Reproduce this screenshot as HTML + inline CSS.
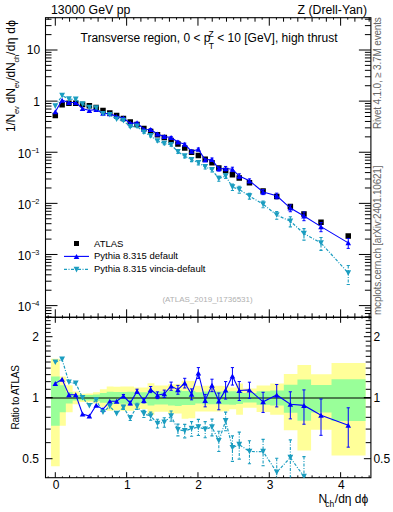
<!DOCTYPE html>
<html><head><meta charset="utf-8"><style>
html,body{margin:0;padding:0;background:#fff;}
svg{display:block;}
text{font-family:"Liberation Sans",sans-serif;}
</style></head><body>
<svg width="393" height="512" viewBox="0 0 393 512">

<g id="bands"><path d="M51.05 358.80H59.70V466.30H51.05Z M59.70 376.40H65.82V425.86H59.70Z M65.82 385.20H72.63V412.27H65.82Z M72.63 391.60H79.44V404.25H72.63Z M79.44 393.70H86.26V401.89H79.44Z M86.26 393.40H93.07V402.22H86.26Z M93.07 392.30H99.88V403.45H93.07Z M99.88 389.30H106.70V406.99H99.88Z M106.70 386.40H113.51V410.67H106.70Z M113.51 386.70H120.32V410.27H113.51Z M120.32 386.40H127.13V410.67H120.32Z M127.13 386.40H133.95V410.67H127.13Z M133.95 387.60H140.76V409.11H133.95Z M140.76 387.60H147.57V409.11H140.76Z M147.57 383.30H154.39V414.93H147.57Z M154.39 385.50H161.20V411.87H154.39Z M161.20 385.50H168.01V411.87H161.20Z M168.01 384.30H174.82V413.51H168.01Z M174.82 384.30H181.64V413.51H174.82Z M181.64 380.70H188.45V418.79H181.64Z M188.45 381.00H195.26V418.33H188.45Z M195.26 385.80H202.08V411.46H195.26Z M202.08 385.80H208.89V411.46H202.08Z M208.89 385.80H215.70V411.46H208.89Z M215.70 385.80H222.51V411.46H215.70Z M222.51 386.00H229.33V411.20H222.51Z M229.33 387.40H236.14V409.37H229.33Z M236.14 383.50H242.95V414.64H236.14Z M242.95 388.60H256.58V407.85H242.95Z M256.58 385.40H270.20V412.00H256.58Z M270.20 383.50H283.83V414.64H270.20Z M283.83 374.00H297.45V430.23H283.83Z M297.45 364.90H311.08V450.58H297.45Z M311.08 374.30H331.52V429.67H311.08Z M331.52 363.10H365.58V455.53H331.52Z" fill="#ffff99"/><path d="M51.05 376.40H59.70V425.86H51.05Z M59.70 385.20H65.82V412.27H59.70Z M65.82 392.20H72.63V403.57H65.82Z M72.63 395.10H79.44V400.38H72.63Z M79.44 395.20H86.26V400.27H79.44Z M86.26 395.00H93.07V400.49H86.26Z M93.07 394.60H99.88V400.91H93.07Z M99.88 392.90H106.70V402.78H99.88Z M106.70 391.70H113.51V404.14H106.70Z M113.51 392.00H120.32V403.79H113.51Z M120.32 392.00H127.13V403.79H120.32Z M127.13 391.70H133.95V404.14H127.13Z M133.95 392.30H140.76V403.45H133.95Z M140.76 392.30H147.57V403.45H140.76Z M147.57 390.60H154.39V405.42H147.57Z M154.39 391.40H161.20V404.49H154.39Z M161.20 391.40H168.01V404.49H161.20Z M168.01 390.50H174.82V405.54H168.01Z M174.82 390.20H181.64V405.90H174.82Z M181.64 390.90H188.45V405.07H181.64Z M188.45 391.00H195.26V404.95H188.45Z M195.26 392.20H202.08V403.57H195.26Z M202.08 391.60H208.89V404.25H202.08Z M208.89 391.60H215.70V404.25H208.89Z M215.70 391.60H222.51V404.25H215.70Z M222.51 391.40H229.33V404.49H222.51Z M229.33 391.20H236.14V404.72H229.33Z M236.14 391.80H242.95V404.02H236.14Z M242.95 393.10H256.58V402.55H242.95Z M256.58 391.20H270.20V404.72H256.58Z M270.20 390.50H283.83V405.54H270.20Z M283.83 384.80H297.45V412.82H283.83Z M297.45 379.50H311.08V420.67H297.45Z M311.08 385.10H331.52V412.41H311.08Z M331.52 379.30H365.58V420.99H331.52Z" fill="#99ff99"/></g>
<path d="M48.17 17.7v2 M48.17 317.3v-2 M48.17 317.3v1.3 M48.17 477.7v-1.3 M55.30 17.7v8 M55.30 317.3v-8 M55.30 317.3v5.5 M55.30 477.7v-5.5 M62.43 17.7v2 M62.43 317.3v-2 M62.43 317.3v1.3 M62.43 477.7v-1.3 M69.57 17.7v4 M69.57 317.3v-4 M69.57 317.3v2.3 M69.57 477.7v-2.3 M76.70 17.7v2 M76.70 317.3v-2 M76.70 317.3v1.3 M76.70 477.7v-1.3 M83.83 17.7v4 M83.83 317.3v-4 M83.83 317.3v2.3 M83.83 477.7v-2.3 M90.97 17.7v2 M90.97 317.3v-2 M90.97 317.3v1.3 M90.97 477.7v-1.3 M98.10 17.7v4 M98.10 317.3v-4 M98.10 317.3v2.3 M98.10 477.7v-2.3 M105.23 17.7v2 M105.23 317.3v-2 M105.23 317.3v1.3 M105.23 477.7v-1.3 M112.36 17.7v4 M112.36 317.3v-4 M112.36 317.3v2.3 M112.36 477.7v-2.3 M119.50 17.7v2 M119.50 317.3v-2 M119.50 317.3v1.3 M119.50 477.7v-1.3 M126.63 17.7v8 M126.63 317.3v-8 M126.63 317.3v5.5 M126.63 477.7v-5.5 M133.76 17.7v2 M133.76 317.3v-2 M133.76 317.3v1.3 M133.76 477.7v-1.3 M140.90 17.7v4 M140.90 317.3v-4 M140.90 317.3v2.3 M140.90 477.7v-2.3 M148.03 17.7v2 M148.03 317.3v-2 M148.03 317.3v1.3 M148.03 477.7v-1.3 M155.16 17.7v4 M155.16 317.3v-4 M155.16 317.3v2.3 M155.16 477.7v-2.3 M162.30 17.7v2 M162.30 317.3v-2 M162.30 317.3v1.3 M162.30 477.7v-1.3 M169.43 17.7v4 M169.43 317.3v-4 M169.43 317.3v2.3 M169.43 477.7v-2.3 M176.56 17.7v2 M176.56 317.3v-2 M176.56 317.3v1.3 M176.56 477.7v-1.3 M183.69 17.7v4 M183.69 317.3v-4 M183.69 317.3v2.3 M183.69 477.7v-2.3 M190.83 17.7v2 M190.83 317.3v-2 M190.83 317.3v1.3 M190.83 477.7v-1.3 M197.96 17.7v8 M197.96 317.3v-8 M197.96 317.3v5.5 M197.96 477.7v-5.5 M205.09 17.7v2 M205.09 317.3v-2 M205.09 317.3v1.3 M205.09 477.7v-1.3 M212.23 17.7v4 M212.23 317.3v-4 M212.23 317.3v2.3 M212.23 477.7v-2.3 M219.36 17.7v2 M219.36 317.3v-2 M219.36 317.3v1.3 M219.36 477.7v-1.3 M226.49 17.7v4 M226.49 317.3v-4 M226.49 317.3v2.3 M226.49 477.7v-2.3 M233.62 17.7v2 M233.62 317.3v-2 M233.62 317.3v1.3 M233.62 477.7v-1.3 M240.76 17.7v4 M240.76 317.3v-4 M240.76 317.3v2.3 M240.76 477.7v-2.3 M247.89 17.7v2 M247.89 317.3v-2 M247.89 317.3v1.3 M247.89 477.7v-1.3 M255.02 17.7v4 M255.02 317.3v-4 M255.02 317.3v2.3 M255.02 477.7v-2.3 M262.16 17.7v2 M262.16 317.3v-2 M262.16 317.3v1.3 M262.16 477.7v-1.3 M269.29 17.7v8 M269.29 317.3v-8 M269.29 317.3v5.5 M269.29 477.7v-5.5 M276.42 17.7v2 M276.42 317.3v-2 M276.42 317.3v1.3 M276.42 477.7v-1.3 M283.56 17.7v4 M283.56 317.3v-4 M283.56 317.3v2.3 M283.56 477.7v-2.3 M290.69 17.7v2 M290.69 317.3v-2 M290.69 317.3v1.3 M290.69 477.7v-1.3 M297.82 17.7v4 M297.82 317.3v-4 M297.82 317.3v2.3 M297.82 477.7v-2.3 M304.95 17.7v2 M304.95 317.3v-2 M304.95 317.3v1.3 M304.95 477.7v-1.3 M312.09 17.7v4 M312.09 317.3v-4 M312.09 317.3v2.3 M312.09 477.7v-2.3 M319.22 17.7v2 M319.22 317.3v-2 M319.22 317.3v1.3 M319.22 477.7v-1.3 M326.35 17.7v4 M326.35 317.3v-4 M326.35 317.3v2.3 M326.35 477.7v-2.3 M333.49 17.7v2 M333.49 317.3v-2 M333.49 317.3v1.3 M333.49 477.7v-1.3 M340.62 17.7v8 M340.62 317.3v-8 M340.62 317.3v5.5 M340.62 477.7v-5.5 M347.75 17.7v2 M347.75 317.3v-2 M347.75 317.3v1.3 M347.75 477.7v-1.3 M354.89 17.7v4 M354.89 317.3v-4 M354.89 317.3v2.3 M354.89 477.7v-2.3 M362.02 17.7v2 M362.02 317.3v-2 M362.02 317.3v1.3 M362.02 477.7v-1.3 M369.15 17.7v4 M369.15 317.3v-4 M369.15 317.3v2.3 M369.15 477.7v-2.3 M45.5 316.94h6 M370.9 316.94h-6 M45.5 313.52h6 M370.9 313.52h-6 M45.5 310.55h6 M370.9 310.55h-6 M45.5 307.94h6 M370.9 307.94h-6 M45.5 305.60h12 M370.9 305.60h-12 M45.5 290.21h6 M370.9 290.21h-6 M45.5 281.21h6 M370.9 281.21h-6 M45.5 274.82h6 M370.9 274.82h-6 M45.5 269.87h6 M370.9 269.87h-6 M45.5 265.82h6 M370.9 265.82h-6 M45.5 262.40h6 M370.9 262.40h-6 M45.5 259.43h6 M370.9 259.43h-6 M45.5 256.82h6 M370.9 256.82h-6 M45.5 254.48h12 M370.9 254.48h-12 M45.5 239.09h6 M370.9 239.09h-6 M45.5 230.09h6 M370.9 230.09h-6 M45.5 223.70h6 M370.9 223.70h-6 M45.5 218.75h6 M370.9 218.75h-6 M45.5 214.70h6 M370.9 214.70h-6 M45.5 211.28h6 M370.9 211.28h-6 M45.5 208.31h6 M370.9 208.31h-6 M45.5 205.70h6 M370.9 205.70h-6 M45.5 203.36h12 M370.9 203.36h-12 M45.5 187.97h6 M370.9 187.97h-6 M45.5 178.97h6 M370.9 178.97h-6 M45.5 172.58h6 M370.9 172.58h-6 M45.5 167.63h6 M370.9 167.63h-6 M45.5 163.58h6 M370.9 163.58h-6 M45.5 160.16h6 M370.9 160.16h-6 M45.5 157.19h6 M370.9 157.19h-6 M45.5 154.58h6 M370.9 154.58h-6 M45.5 152.24h12 M370.9 152.24h-12 M45.5 136.85h6 M370.9 136.85h-6 M45.5 127.85h6 M370.9 127.85h-6 M45.5 121.46h6 M370.9 121.46h-6 M45.5 116.51h6 M370.9 116.51h-6 M45.5 112.46h6 M370.9 112.46h-6 M45.5 109.04h6 M370.9 109.04h-6 M45.5 106.07h6 M370.9 106.07h-6 M45.5 103.46h6 M370.9 103.46h-6 M45.5 101.12h12 M370.9 101.12h-12 M45.5 85.73h6 M370.9 85.73h-6 M45.5 76.73h6 M370.9 76.73h-6 M45.5 70.34h6 M370.9 70.34h-6 M45.5 65.39h6 M370.9 65.39h-6 M45.5 61.34h6 M370.9 61.34h-6 M45.5 57.92h6 M370.9 57.92h-6 M45.5 54.95h6 M370.9 54.95h-6 M45.5 52.34h6 M370.9 52.34h-6 M45.5 50.00h12 M370.9 50.00h-12 M45.5 34.61h6 M370.9 34.61h-6 M45.5 25.61h6 M370.9 25.61h-6 M45.5 19.22h6 M370.9 19.22h-6 M45.5 458.70h7 M370.9 458.70h-7 M45.5 442.65h5.2 M370.9 442.65h-5.2 M45.5 429.09h5.2 M370.9 429.09h-5.2 M45.5 417.34h5.2 M370.9 417.34h-5.2 M45.5 406.97h5.2 M370.9 406.97h-5.2 M45.5 397.70h7 M370.9 397.70h-7 M45.5 397.70h7 M370.9 397.70h-7 M45.5 389.31h5.2 M370.9 389.31h-5.2 M45.5 381.65h5.2 M370.9 381.65h-5.2 M45.5 374.61h5.2 M370.9 374.61h-5.2 M45.5 368.09h5.2 M370.9 368.09h-5.2 M45.5 362.02h5.2 M370.9 362.02h-5.2 M45.5 356.34h5.2 M370.9 356.34h-5.2 M45.5 351.00h5.2 M370.9 351.00h-5.2 M45.5 345.97h5.2 M370.9 345.97h-5.2 M45.5 341.21h5.2 M370.9 341.21h-5.2 M45.5 336.70h7 M370.9 336.70h-7 M45.5 332.41h5.2 M370.9 332.41h-5.2 M45.5 328.31h5.2 M370.9 328.31h-5.2 M45.5 324.40h5.2 M370.9 324.40h-5.2 M45.5 320.65h5.2 M370.9 320.65h-5.2" stroke="#000" stroke-width="1" fill="none"/>
<rect x="45.5" y="17.7" width="325.40" height="299.60" fill="none" stroke="#000" stroke-width="1.1"/>
<rect x="45.5" y="317.3" width="325.40" height="160.40" fill="none" stroke="#000" stroke-width="1.1"/>
<path d="M45.5 398.0H370.9" stroke="#000" stroke-width="1.2"/>
<text x="51" y="13.9" font-size="12.3" text-anchor="start" fill="#000" >13000 GeV pp</text>
<text x="367" y="14" font-size="12.3" text-anchor="end" fill="#000" >Z (Drell-Yan)</text>
<text x="80.5" y="42.3" font-size="12" text-anchor="start" fill="#000" >Transverse region, 0 &lt; p<tspan font-size="8.5" dx="-2" dy="-5">Z</tspan><tspan font-size="8.5" dx="-5" dy="12">T</tspan><tspan dy="-7"> &lt; 10 [GeV], high thrust</tspan></text>
<text x="40.2" y="54" font-size="12" text-anchor="end" fill="#000" >10</text>
<text x="40" y="106" font-size="12" text-anchor="end" fill="#000" >1</text>
<text x="39.3" y="158" font-size="12" text-anchor="end" fill="#000" >10<tspan font-size="7.4" dx="0.3" dy="-5">&#8722;</tspan><tspan font-size="7.4" dx="-0.6">1</tspan></text>
<text x="39.3" y="209" font-size="12" text-anchor="end" fill="#000" >10<tspan font-size="7.4" dx="0.3" dy="-5">&#8722;</tspan><tspan font-size="7.4" dx="-0.6">2</tspan></text>
<text x="39.3" y="260" font-size="12" text-anchor="end" fill="#000" >10<tspan font-size="7.4" dx="0.3" dy="-5">&#8722;</tspan><tspan font-size="7.4" dx="-0.6">3</tspan></text>
<text x="39.3" y="311" font-size="12" text-anchor="end" fill="#000" >10<tspan font-size="7.4" dx="0.3" dy="-5">&#8722;</tspan><tspan font-size="7.4" dx="-0.6">4</tspan></text>
<text x="39" y="340.9" font-size="12" text-anchor="end" fill="#000" >2</text>
<text x="39" y="401.9" font-size="12" text-anchor="end" fill="#000" >1</text>
<text x="39" y="462.9" font-size="12" text-anchor="end" fill="#000" >0.5</text>
<text x="373.4" y="340.9" font-size="12" text-anchor="start" fill="#000" >2</text>
<text x="373.4" y="402.09999999999997" font-size="12" text-anchor="start" fill="#000" >1</text>
<text x="373.4" y="462.9" font-size="12" text-anchor="start" fill="#000" >0.5</text>
<text x="56.0" y="489.4" font-size="12" text-anchor="middle" fill="#000" >0</text>
<text x="127.33" y="489.4" font-size="12" text-anchor="middle" fill="#000" >1</text>
<text x="198.65999999999997" y="489.4" font-size="12" text-anchor="middle" fill="#000" >2</text>
<text x="269.99" y="489.4" font-size="12" text-anchor="middle" fill="#000" >3</text>
<text x="341.32" y="489.4" font-size="12" text-anchor="middle" fill="#000" >4</text>
<text x="318.5" y="502.5" font-size="12" text-anchor="start" fill="#000" >N<tspan font-size="8.5" dx="-1.8" dy="4.5">ch</tspan><tspan dx="0.5" dy="-4.5">/d&#951; d&#981;</tspan></text>
<text x="94" y="247" font-size="9.5" text-anchor="start" fill="#000" >ATLAS</text>
<text x="94" y="258.6" font-size="9.5" text-anchor="start" fill="#000" >Pythia 8.315 default</text>
<text x="94" y="271.6" font-size="9.5" text-anchor="start" fill="#000" >Pythia 8.315 vincia-default</text>
<text x="162.4" y="302.3" font-size="8.02" text-anchor="start" fill="#b0b0b0" >(ATLAS_2019_I1736531)</text>
<text transform="translate(14.7,132) rotate(-90)" font-size="12" letter-spacing="-0.2">1/N<tspan font-size="7.6" dy="3.9">ev</tspan><tspan dy="-3.9"> dN</tspan><tspan font-size="7.6" dy="3.9">ev</tspan><tspan dy="-3.9">/dN</tspan><tspan font-size="7.6" dy="3.9">ch</tspan><tspan dy="-3.9" letter-spacing="0.3">/d&#951; d&#981;</tspan></text>
<text transform="translate(18.9,429.5) rotate(-90)" font-size="10" letter-spacing="-0.25">Ratio to ATLAS</text>
<text transform="translate(380.5,129) rotate(-90)" font-size="10" letter-spacing="-0.17" fill="#666">Rivet 4.1.0, &#8805; 3.7M events</text>
<text transform="translate(381,315) rotate(-90)" font-size="10" letter-spacing="-0.22" fill="#666">mcplots.cern.ch [arXiv:2401.10621]</text>
<defs><clipPath id="cm"><rect x="45.5" y="17.7" width="325.4" height="299.6"/></clipPath><clipPath id="cr"><rect x="45.5" y="317.3" width="325.4" height="160.39999999999998"/></clipPath></defs>
<g clip-path="url(#cm)">
<path d="M52.55 112.65h5.5v5.5h-5.5Z M59.36 102.05h5.5v5.5h-5.5Z M66.18 100.55h5.5v5.5h-5.5Z M72.99 100.55h5.5v5.5h-5.5Z M79.80 101.65h5.5v5.5h-5.5Z M86.61 103.05h5.5v5.5h-5.5Z M93.43 104.85h5.5v5.5h-5.5Z M100.24 107.65h5.5v5.5h-5.5Z M107.05 110.15h5.5v5.5h-5.5Z M113.87 112.75h5.5v5.5h-5.5Z M120.68 115.75h5.5v5.5h-5.5Z M127.49 119.25h5.5v5.5h-5.5Z M134.30 121.75h5.5v5.5h-5.5Z M141.12 125.75h5.5v5.5h-5.5Z M147.93 128.75h5.5v5.5h-5.5Z M154.74 131.95h5.5v5.5h-5.5Z M161.55 134.85h5.5v5.5h-5.5Z M168.37 137.65h5.5v5.5h-5.5Z M175.18 141.25h5.5v5.5h-5.5Z M181.99 145.25h5.5v5.5h-5.5Z M188.81 149.45h5.5v5.5h-5.5Z M195.62 152.85h5.5v5.5h-5.5Z M202.43 156.45h5.5v5.5h-5.5Z M209.24 159.95h5.5v5.5h-5.5Z M216.06 165.25h5.5v5.5h-5.5Z M222.87 167.75h5.5v5.5h-5.5Z M229.68 172.05h5.5v5.5h-5.5Z M236.50 175.15h5.5v5.5h-5.5Z M246.71 180.05h5.5v5.5h-5.5Z M260.34 188.15h5.5v5.5h-5.5Z M273.97 193.75h5.5v5.5h-5.5Z M287.59 203.65h5.5v5.5h-5.5Z M301.22 211.25h5.5v5.5h-5.5Z M318.25 219.45h5.5v5.5h-5.5Z M345.50 233.15h5.5v5.5h-5.5Z" fill="#000"/>
<path d="M55.30 111.79L62.11 100.16L68.93 102.57L75.74 102.57L82.55 108.51L89.36 110.42L96.18 109.52L102.99 113.35L109.80 113.81L116.62 116.38L123.43 118.07L130.24 123.34L137.05 122.86L143.87 129.23L150.68 129.43L157.49 134.07L164.30 136.59L171.12 137.47L177.93 141.98L184.74 144.29L191.56 151.32L198.37 149.34L205.18 159.88L211.99 159.55L218.81 168.83L225.62 168.53L232.43 169.30L239.25 176.08L249.46 180.83L263.09 191.93L276.72 195.82L290.34 208.07L303.97 215.94L321.00 226.64L348.25 242.86" fill="none" stroke="#0000ff" stroke-width="1.1"/>
<path d="M123.43 117.69V118.46 M130.24 122.88V123.80 M137.05 122.36V123.38 M143.87 128.68V129.80 M150.68 128.67V130.21 M157.49 133.24V134.93 M164.30 135.68V137.54 M171.12 136.46V138.53 M177.93 140.90V143.12 M184.74 143.11V145.54 M191.56 149.98V152.74 M198.37 148.01V150.77 M205.18 158.37V161.51 M211.99 158.03V161.17 M218.81 166.81V171.05 M225.62 166.44V170.84 M232.43 167.21V171.61 M239.25 173.81V178.61 M249.46 178.89V182.96 M263.09 189.54V194.62 M276.72 193.17V198.83 M290.34 204.91V211.74 M303.97 212.03V220.69 M321.00 222.53V231.69 M348.25 238.45V248.38 M121.83 117.69h3.2M121.83 118.46h3.2 M128.64 122.88h3.2M128.64 123.80h3.2 M135.45 122.36h3.2M135.45 123.38h3.2 M142.27 128.68h3.2M142.27 129.80h3.2 M149.08 128.67h3.2M149.08 130.21h3.2 M155.89 133.24h3.2M155.89 134.93h3.2 M162.70 135.68h3.2M162.70 137.54h3.2 M169.52 136.46h3.2M169.52 138.53h3.2 M176.33 140.90h3.2M176.33 143.12h3.2 M183.14 143.11h3.2M183.14 145.54h3.2 M189.96 149.98h3.2M189.96 152.74h3.2 M196.77 148.01h3.2M196.77 150.77h3.2 M203.58 158.37h3.2M203.58 161.51h3.2 M210.39 158.03h3.2M210.39 161.17h3.2 M217.21 166.81h3.2M217.21 171.05h3.2 M224.02 166.44h3.2M224.02 170.84h3.2 M230.83 167.21h3.2M230.83 171.61h3.2 M237.65 173.81h3.2M237.65 178.61h3.2 M247.86 178.89h3.2M247.86 182.96h3.2 M261.49 189.54h3.2M261.49 194.62h3.2 M275.12 193.17h3.2M275.12 198.83h3.2 M288.74 204.91h3.2M288.74 211.74h3.2 M302.37 212.03h3.2M302.37 220.69h3.2 M319.40 222.53h3.2M319.40 231.69h3.2 M346.65 238.45h3.2M346.65 248.38h3.2" stroke="#0000ff" stroke-width="1" fill="none"/>
<path d="M52.50 114.29L55.30 109.29L58.10 114.29Z M59.31 102.66L62.11 97.66L64.91 102.66Z M66.13 105.07L68.93 100.07L71.73 105.07Z M72.94 105.07L75.74 100.07L78.54 105.07Z M79.75 111.01L82.55 106.01L85.35 111.01Z M86.56 112.92L89.36 107.92L92.16 112.92Z M93.38 112.02L96.18 107.02L98.98 112.02Z M100.19 115.85L102.99 110.85L105.79 115.85Z M107.00 116.31L109.80 111.31L112.60 116.31Z M113.82 118.88L116.62 113.88L119.42 118.88Z M120.63 120.57L123.43 115.57L126.23 120.57Z M127.44 125.84L130.24 120.84L133.04 125.84Z M134.25 125.36L137.05 120.36L139.85 125.36Z M141.07 131.73L143.87 126.73L146.67 131.73Z M147.88 131.93L150.68 126.93L153.48 131.93Z M154.69 136.57L157.49 131.57L160.29 136.57Z M161.50 139.09L164.30 134.09L167.10 139.09Z M168.32 139.97L171.12 134.97L173.92 139.97Z M175.13 144.48L177.93 139.48L180.73 144.48Z M181.94 146.79L184.74 141.79L187.54 146.79Z M188.76 153.82L191.56 148.82L194.36 153.82Z M195.57 151.84L198.37 146.84L201.17 151.84Z M202.38 162.38L205.18 157.38L207.98 162.38Z M209.19 162.05L211.99 157.05L214.79 162.05Z M216.01 171.33L218.81 166.33L221.61 171.33Z M222.82 171.03L225.62 166.03L228.42 171.03Z M229.63 171.80L232.43 166.80L235.23 171.80Z M236.45 178.58L239.25 173.58L242.05 178.58Z M246.66 183.33L249.46 178.33L252.26 183.33Z M260.29 194.43L263.09 189.43L265.89 194.43Z M273.92 198.32L276.72 193.32L279.52 198.32Z M287.54 210.57L290.34 205.57L293.14 210.57Z M301.17 218.44L303.97 213.44L306.77 218.44Z M318.20 229.14L321.00 224.14L323.80 229.14Z M345.45 245.36L348.25 240.36L351.05 245.36Z" fill="#0000ff"/>
<path d="M55.30 106.17L62.11 95.60L68.93 99.11L75.74 99.39L82.55 104.12L89.36 107.54L96.18 107.93L102.99 113.78L109.80 114.82L116.62 119.23L123.43 120.67L130.24 126.84L137.05 126.39L143.87 132.31L150.68 135.86L157.49 140.93L164.30 143.55L171.12 144.74L177.93 151.82L184.74 156.10L191.56 159.72L198.37 162.74L205.18 166.89L211.99 169.84L218.81 178.60L225.62 176.08L232.43 187.14L239.25 189.45L249.46 196.09L263.09 204.22L276.72 215.02L290.34 221.23L303.97 233.63L321.00 243.00L348.25 273.00" fill="none" stroke="#1b9dc0" stroke-width="1.2" stroke-dasharray="3 1.5 1 1.5"/>
<path d="M123.43 120.17V121.19 M130.24 126.21V127.49 M137.05 125.64V127.18 M143.87 131.43V133.23 M150.68 134.86V136.92 M157.49 139.85V142.07 M164.30 142.39V144.78 M171.12 143.48V146.08 M177.93 150.38V153.36 M184.74 154.46V157.87 M191.56 157.95V161.64 M198.37 160.80V164.87 M205.18 164.95V169.02 M211.99 167.82V172.06 M218.81 176.20V181.28 M225.62 173.86V178.54 M232.43 184.16V190.57 M239.25 186.30V193.13 M249.46 193.40V199.17 M263.09 201.14V207.79 M276.72 211.49V219.22 M290.34 216.77V226.83 M303.97 228.58V240.17 M321.00 237.45V250.42 M348.25 265.43V284.57" stroke="#1b9dc0" stroke-width="1.1" fill="none" stroke-dasharray="3 1.5 1 1.5"/><path d="M121.83 120.17h3.2M121.83 121.19h3.2 M128.64 126.21h3.2M128.64 127.49h3.2 M135.45 125.64h3.2M135.45 127.18h3.2 M142.27 131.43h3.2M142.27 133.23h3.2 M149.08 134.86h3.2M149.08 136.92h3.2 M155.89 139.85h3.2M155.89 142.07h3.2 M162.70 142.39h3.2M162.70 144.78h3.2 M169.52 143.48h3.2M169.52 146.08h3.2 M176.33 150.38h3.2M176.33 153.36h3.2 M183.14 154.46h3.2M183.14 157.87h3.2 M189.96 157.95h3.2M189.96 161.64h3.2 M196.77 160.80h3.2M196.77 164.87h3.2 M203.58 164.95h3.2M203.58 169.02h3.2 M210.39 167.82h3.2M210.39 172.06h3.2 M217.21 176.20h3.2M217.21 181.28h3.2 M224.02 173.86h3.2M224.02 178.54h3.2 M230.83 184.16h3.2M230.83 190.57h3.2 M237.65 186.30h3.2M237.65 193.13h3.2 M247.86 193.40h3.2M247.86 199.17h3.2 M261.49 201.14h3.2M261.49 207.79h3.2 M275.12 211.49h3.2M275.12 219.22h3.2 M288.74 216.77h3.2M288.74 226.83h3.2 M302.37 228.58h3.2M302.37 240.17h3.2 M319.40 237.45h3.2M319.40 250.42h3.2 M346.65 265.43h3.2M346.65 284.57h3.2" stroke="#1b9dc0" stroke-width="1.1" fill="none"/>
<path d="M52.40 103.37L55.30 108.97L58.20 103.37Z M59.21 92.80L62.11 98.40L65.01 92.80Z M66.03 96.31L68.93 101.91L71.83 96.31Z M72.84 96.59L75.74 102.19L78.64 96.59Z M79.65 101.32L82.55 106.92L85.45 101.32Z M86.46 104.74L89.36 110.34L92.26 104.74Z M93.28 105.13L96.18 110.73L99.08 105.13Z M100.09 110.98L102.99 116.58L105.89 110.98Z M106.90 112.02L109.80 117.62L112.70 112.02Z M113.72 116.43L116.62 122.03L119.52 116.43Z M120.53 117.87L123.43 123.47L126.33 117.87Z M127.34 124.04L130.24 129.64L133.14 124.04Z M134.15 123.59L137.05 129.19L139.95 123.59Z M140.97 129.51L143.87 135.11L146.77 129.51Z M147.78 133.06L150.68 138.66L153.58 133.06Z M154.59 138.13L157.49 143.73L160.39 138.13Z M161.40 140.75L164.30 146.35L167.20 140.75Z M168.22 141.94L171.12 147.54L174.02 141.94Z M175.03 149.02L177.93 154.62L180.83 149.02Z M181.84 153.30L184.74 158.90L187.64 153.30Z M188.66 156.92L191.56 162.52L194.46 156.92Z M195.47 159.94L198.37 165.54L201.27 159.94Z M202.28 164.09L205.18 169.69L208.08 164.09Z M209.09 167.04L211.99 172.64L214.89 167.04Z M215.91 175.80L218.81 181.40L221.71 175.80Z M222.72 173.28L225.62 178.88L228.52 173.28Z M229.53 184.34L232.43 189.94L235.33 184.34Z M236.35 186.65L239.25 192.25L242.15 186.65Z M246.56 193.29L249.46 198.89L252.36 193.29Z M260.19 201.42L263.09 207.02L265.99 201.42Z M273.82 212.22L276.72 217.82L279.62 212.22Z M287.44 218.43L290.34 224.03L293.24 218.43Z M301.07 230.83L303.97 236.43L306.87 230.83Z M318.10 240.20L321.00 245.80L323.90 240.20Z M345.35 270.20L348.25 275.80L351.15 270.20Z" fill="#1b9dc0"/>
</g>
<g clip-path="url(#cr)">
<path d="M55.30 383.40L62.11 379.30L68.93 394.80L75.74 394.80L82.55 414.00L89.36 416.00L96.18 405.30L102.99 409.40L109.80 401.30L116.62 401.20L123.43 396.00L130.24 403.00L137.05 391.20L143.87 400.60L150.68 389.50L157.49 395.20L164.30 393.70L171.12 386.10L177.93 389.70L184.74 383.00L191.56 394.20L198.37 372.90L205.18 400.40L211.99 385.20L218.81 401.00L225.62 389.90L232.43 375.90L239.25 390.50L249.46 389.90L263.09 401.80L276.72 395.00L290.34 404.30L303.97 405.40L321.00 415.30L348.25 425.30" fill="none" stroke="#0000ff" stroke-width="1.1"/>
<path d="M123.43 394.50V397.53 M130.24 401.20V404.84 M137.05 389.20V393.25 M143.87 398.40V402.86 M150.68 386.50V392.61 M157.49 391.90V398.63 M164.30 390.10V397.45 M171.12 382.10V390.29 M177.93 385.40V394.22 M184.74 378.30V387.97 M191.56 388.90V399.84 M198.37 367.60V378.54 M205.18 394.40V406.84 M211.99 379.20V391.64 M218.81 393.00V409.80 M225.62 381.60V399.07 M232.43 367.60V385.07 M239.25 381.50V400.53 M249.46 382.20V398.34 M263.09 392.30V412.45 M276.72 384.50V406.92 M290.34 391.80V418.87 M303.97 389.90V424.23 M321.00 399.00V435.32 M348.25 407.80V447.17 M121.83 394.50h3.2M121.83 397.53h3.2 M128.64 401.20h3.2M128.64 404.84h3.2 M135.45 389.20h3.2M135.45 393.25h3.2 M142.27 398.40h3.2M142.27 402.86h3.2 M149.08 386.50h3.2M149.08 392.61h3.2 M155.89 391.90h3.2M155.89 398.63h3.2 M162.70 390.10h3.2M162.70 397.45h3.2 M169.52 382.10h3.2M169.52 390.29h3.2 M176.33 385.40h3.2M176.33 394.22h3.2 M183.14 378.30h3.2M183.14 387.97h3.2 M189.96 388.90h3.2M189.96 399.84h3.2 M196.77 367.60h3.2M196.77 378.54h3.2 M203.58 394.40h3.2M203.58 406.84h3.2 M210.39 379.20h3.2M210.39 391.64h3.2 M217.21 393.00h3.2M217.21 409.80h3.2 M224.02 381.60h3.2M224.02 399.07h3.2 M230.83 367.60h3.2M230.83 385.07h3.2 M237.65 381.50h3.2M237.65 400.53h3.2 M247.86 382.20h3.2M247.86 398.34h3.2 M261.49 392.30h3.2M261.49 412.45h3.2 M275.12 384.50h3.2M275.12 406.92h3.2 M288.74 391.80h3.2M288.74 418.87h3.2 M302.37 389.90h3.2M302.37 424.23h3.2 M319.40 399.00h3.2M319.40 435.32h3.2 M346.65 407.80h3.2M346.65 447.17h3.2" stroke="#0000ff" stroke-width="1" fill="none"/>
<path d="M52.50 385.90L55.30 380.90L58.10 385.90Z M59.31 381.80L62.11 376.80L64.91 381.80Z M66.13 397.30L68.93 392.30L71.73 397.30Z M72.94 397.30L75.74 392.30L78.54 397.30Z M79.75 416.50L82.55 411.50L85.35 416.50Z M86.56 418.50L89.36 413.50L92.16 418.50Z M93.38 407.80L96.18 402.80L98.98 407.80Z M100.19 411.90L102.99 406.90L105.79 411.90Z M107.00 403.80L109.80 398.80L112.60 403.80Z M113.82 403.70L116.62 398.70L119.42 403.70Z M120.63 398.50L123.43 393.50L126.23 398.50Z M127.44 405.50L130.24 400.50L133.04 405.50Z M134.25 393.70L137.05 388.70L139.85 393.70Z M141.07 403.10L143.87 398.10L146.67 403.10Z M147.88 392.00L150.68 387.00L153.48 392.00Z M154.69 397.70L157.49 392.70L160.29 397.70Z M161.50 396.20L164.30 391.20L167.10 396.20Z M168.32 388.60L171.12 383.60L173.92 388.60Z M175.13 392.20L177.93 387.20L180.73 392.20Z M181.94 385.50L184.74 380.50L187.54 385.50Z M188.76 396.70L191.56 391.70L194.36 396.70Z M195.57 375.40L198.37 370.40L201.17 375.40Z M202.38 402.90L205.18 397.90L207.98 402.90Z M209.19 387.70L211.99 382.70L214.79 387.70Z M216.01 403.50L218.81 398.50L221.61 403.50Z M222.82 392.40L225.62 387.40L228.42 392.40Z M229.63 378.40L232.43 373.40L235.23 378.40Z M236.45 393.00L239.25 388.00L242.05 393.00Z M246.66 392.40L249.46 387.40L252.26 392.40Z M260.29 404.30L263.09 399.30L265.89 404.30Z M273.92 397.50L276.72 392.50L279.52 397.50Z M287.54 406.80L290.34 401.80L293.14 406.80Z M301.17 407.90L303.97 402.90L306.77 407.90Z M318.20 417.80L321.00 412.80L323.80 417.80Z M345.45 427.80L348.25 422.80L351.05 427.80Z" fill="#0000ff"/>
<path d="M55.30 362.20L62.11 359.40L68.93 382.20L75.74 383.30L82.55 397.70L89.36 405.70L96.18 400.10L102.99 412.20L109.80 406.40L116.62 413.60L123.43 407.40L130.24 418.00L137.05 406.30L143.87 413.90L150.68 416.10L157.49 423.50L164.30 422.40L171.12 416.00L177.93 429.80L184.74 430.90L191.56 428.60L198.37 427.10L205.18 429.30L211.99 427.10L218.81 440.80L225.62 420.90L232.43 447.70L239.25 444.60L249.46 451.50L263.09 451.60L276.72 472.20L290.34 457.60L303.97 476.60L321.00 540.00L348.25 600.00" fill="none" stroke="#1b9dc0" stroke-width="1.2" stroke-dasharray="3 1.5 1 1.5"/>
<path d="M123.43 405.40V409.45 M130.24 415.50V420.57 M137.05 403.30V409.41 M143.87 410.40V417.54 M150.68 412.10V420.29 M157.49 419.20V428.02 M164.30 417.80V427.25 M171.12 411.00V421.30 M177.93 424.10V435.89 M184.74 424.40V437.92 M191.56 421.60V436.21 M198.37 419.40V435.54 M205.18 421.60V437.74 M211.99 419.10V435.90 M218.81 431.30V451.45 M225.62 412.10V430.68 M232.43 435.90V461.33 M239.25 432.10V459.17 M249.46 440.80V463.68 M263.09 439.40V465.77 M276.72 458.20V488.86 M290.34 439.90V479.78 M303.97 456.60V502.52" stroke="#1b9dc0" stroke-width="1.1" fill="none" stroke-dasharray="3 1.5 1 1.5"/><path d="M121.83 405.40h3.2M121.83 409.45h3.2 M128.64 415.50h3.2M128.64 420.57h3.2 M135.45 403.30h3.2M135.45 409.41h3.2 M142.27 410.40h3.2M142.27 417.54h3.2 M149.08 412.10h3.2M149.08 420.29h3.2 M155.89 419.20h3.2M155.89 428.02h3.2 M162.70 417.80h3.2M162.70 427.25h3.2 M169.52 411.00h3.2M169.52 421.30h3.2 M176.33 424.10h3.2M176.33 435.89h3.2 M183.14 424.40h3.2M183.14 437.92h3.2 M189.96 421.60h3.2M189.96 436.21h3.2 M196.77 419.40h3.2M196.77 435.54h3.2 M203.58 421.60h3.2M203.58 437.74h3.2 M210.39 419.10h3.2M210.39 435.90h3.2 M217.21 431.30h3.2M217.21 451.45h3.2 M224.02 412.10h3.2M224.02 430.68h3.2 M230.83 435.90h3.2M230.83 461.33h3.2 M237.65 432.10h3.2M237.65 459.17h3.2 M247.86 440.80h3.2M247.86 463.68h3.2 M261.49 439.40h3.2M261.49 465.77h3.2 M275.12 458.20h3.2M275.12 488.86h3.2 M288.74 439.90h3.2M288.74 479.78h3.2 M302.37 456.60h3.2M302.37 502.52h3.2" stroke="#1b9dc0" stroke-width="1.1" fill="none"/>
<path d="M52.40 359.40L55.30 365.00L58.20 359.40Z M59.21 356.60L62.11 362.20L65.01 356.60Z M66.03 379.40L68.93 385.00L71.83 379.40Z M72.84 380.50L75.74 386.10L78.64 380.50Z M79.65 394.90L82.55 400.50L85.45 394.90Z M86.46 402.90L89.36 408.50L92.26 402.90Z M93.28 397.30L96.18 402.90L99.08 397.30Z M100.09 409.40L102.99 415.00L105.89 409.40Z M106.90 403.60L109.80 409.20L112.70 403.60Z M113.72 410.80L116.62 416.40L119.52 410.80Z M120.53 404.60L123.43 410.20L126.33 404.60Z M127.34 415.20L130.24 420.80L133.14 415.20Z M134.15 403.50L137.05 409.10L139.95 403.50Z M140.97 411.10L143.87 416.70L146.77 411.10Z M147.78 413.30L150.68 418.90L153.58 413.30Z M154.59 420.70L157.49 426.30L160.39 420.70Z M161.40 419.60L164.30 425.20L167.20 419.60Z M168.22 413.20L171.12 418.80L174.02 413.20Z M175.03 427.00L177.93 432.60L180.83 427.00Z M181.84 428.10L184.74 433.70L187.64 428.10Z M188.66 425.80L191.56 431.40L194.46 425.80Z M195.47 424.30L198.37 429.90L201.27 424.30Z M202.28 426.50L205.18 432.10L208.08 426.50Z M209.09 424.30L211.99 429.90L214.89 424.30Z M215.91 438.00L218.81 443.60L221.71 438.00Z M222.72 418.10L225.62 423.70L228.52 418.10Z M229.53 444.90L232.43 450.50L235.33 444.90Z M236.35 441.80L239.25 447.40L242.15 441.80Z M246.56 448.70L249.46 454.30L252.36 448.70Z M260.19 448.80L263.09 454.40L265.99 448.80Z M273.82 469.40L276.72 475.00L279.62 469.40Z M287.44 454.80L290.34 460.40L293.24 454.80Z M301.07 473.80L303.97 479.40L306.87 473.80Z" fill="#1b9dc0"/>
</g>
<rect x="74" y="241" width="5" height="5" fill="#000"/>
<path d="M64 256.4H89" stroke="#0000ff" stroke-width="1.1"/><path d="M73.70 259.00L76.50 254.00L79.30 259.00Z" fill="#0000ff"/>
<path d="M64 269.4H89" stroke="#1b9dc0" stroke-width="1.2" stroke-dasharray="3 1.5 1 1.5"/><path d="M73.60 266.80L76.50 272.40L79.40 266.80Z" fill="#1b9dc0"/>
</svg></body></html>
